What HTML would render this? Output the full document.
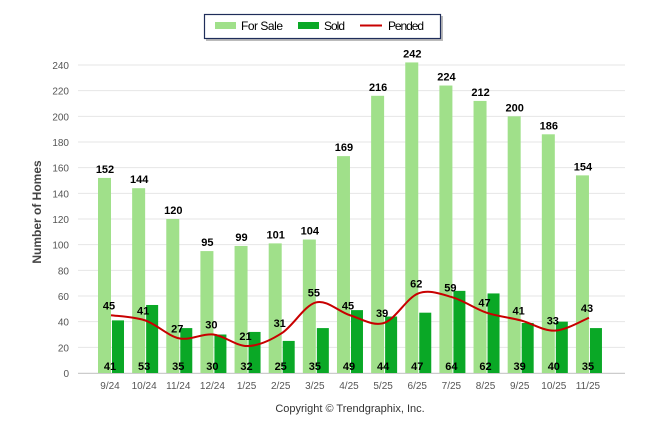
<!DOCTYPE html>
<html><head><meta charset="utf-8"><style>
body{margin:0;background:#fff;width:646px;height:434px;overflow:hidden;font-family:"Liberation Sans",sans-serif}
</style></head><body>
<svg id="c" width="646" height="434" xmlns="http://www.w3.org/2000/svg"></svg>
<script>
const categories=["9/24","10/24","11/24","12/24","1/25","2/25","3/25","4/25","5/25","6/25","7/25","8/25","9/25","10/25","11/25"];
const forSale=[152,144,120,95,99,101,104,169,216,242,224,212,200,186,154];
const sold=[41,53,35,30,32,25,35,49,44,47,64,62,39,40,35];
const pended=[45,41,27,30,21,31,55,45,39,62,59,47,41,33,43];
const yTicks=[0,20,40,60,80,100,120,140,160,180,200,220,240];
const svg=document.getElementById('c');
const NS='http://www.w3.org/2000/svg';
function y(v){return 373-v*308/240;}
function x(i){return 111+i*34.14;}
function mk(t,a,txt){const e=document.createElementNS(NS,t);for(const k in a)e.setAttribute(k,a[k]);if(txt!==undefined)e.textContent=txt;svg.appendChild(e);return e;}
yTicks.forEach(v=>{
 const g=mk('line',{x1:78,x2:625,y1:y(v),y2:y(v),stroke:'#e6e6e6','stroke-width':1});
 
 
 const t=mk('text',{x:69,y:y(v)+4,'text-anchor':'end','font-size':10,fill:'#555'},v);
 
 
});
const ax=mk('line',{x1:78,x2:625,y1:y(0)+0.5,y2:y(0)+0.5,stroke:'#ccc'});


categories.forEach((c,i)=>{
 const b1=mk('rect',{x:x(i)-13,y:y(forSale[i]),width:13,height:y(0)-y(forSale[i]),fill:'#a0e08a'});
 
 
 const b2=mk('rect',{x:x(i)+1,y:y(sold[i]),width:12,height:y(0)-y(sold[i]),fill:'#0aa826'});
 
 
 const l1=mk('text',{x:x(i)-6,y:y(forSale[i])-5,'text-anchor':'middle','font-size':11,'font-weight':'bold',fill:'#000'},forSale[i]);
 
 
 const l2=mk('text',{x:x(i)-1,y:370,'text-anchor':'middle','font-size':11,'font-weight':'bold',fill:'#000'},sold[i]);
 
 
 const tl=mk('text',{x:x(i)-1,y:389,'text-anchor':'middle','font-size':10,fill:'#555'},c);
 
 
});
const pts=pended.map((v,i)=>[x(i),y(v)]);
let d='M'+pts[0][0]+','+pts[0][1];
for(let i=0;i<pts.length-1;i++){
 const p0=pts[Math.max(0,i-1)],p1=pts[i],p2=pts[i+1],p3=pts[Math.min(pts.length-1,i+2)];
 const t=1/6;
 d+=' C'+(p1[0]+(p2[0]-p0[0])*t)+','+(p1[1]+(p2[1]-p0[1])*t)+' '+(p2[0]-(p3[0]-p1[0])*t)+','+(p2[1]-(p3[1]-p1[1])*t)+' '+p2[0]+','+p2[1];
}
const pl=mk('path',{d:d,fill:'none',stroke:'#c80000','stroke-width':2});


pended.forEach((v,i)=>{
 const t=mk('text',{x:x(i)-2,y:y(v)-6,'text-anchor':'middle','font-size':11,'font-weight':'bold',fill:'#000'},v);
 
 
});
const yt=mk('text',{x:0,y:0,transform:'translate(41,212) rotate(-90)','text-anchor':'middle','font-size':12,'font-weight':'bold',fill:'#444'},'Number of Homes');


const cp=mk('text',{x:350,y:412,'text-anchor':'middle','font-size':11,fill:'#333'},'Copyright © Trendgraphix, Inc.');


// legend
mk('rect',{x:206,y:16,width:237,height:25,fill:'#bbb'});
const lb=mk('rect',{x:204.5,y:14.5,width:236,height:24,fill:'#fff',stroke:'#1f2d5a','stroke-width':1.2});


const e1=mk('rect',{x:215,y:22,width:21,height:7,fill:'#a0e08a'});


const t1=mk('text',{x:241,y:30,'font-size':12,fill:'#000',textLength:42},'For Sale');


const e2=mk('rect',{x:298,y:22,width:21,height:7,fill:'#0aa826'});


const t2=mk('text',{x:324,y:30,'font-size':12,fill:'#000',textLength:21},'Sold');


const e3=mk('line',{x1:360,x2:382,y1:25.5,y2:25.5,stroke:'#c80000','stroke-width':2});


const t3=mk('text',{x:388,y:30,'font-size':12,fill:'#000',textLength:36},'Pended');


</script>
</body></html>
